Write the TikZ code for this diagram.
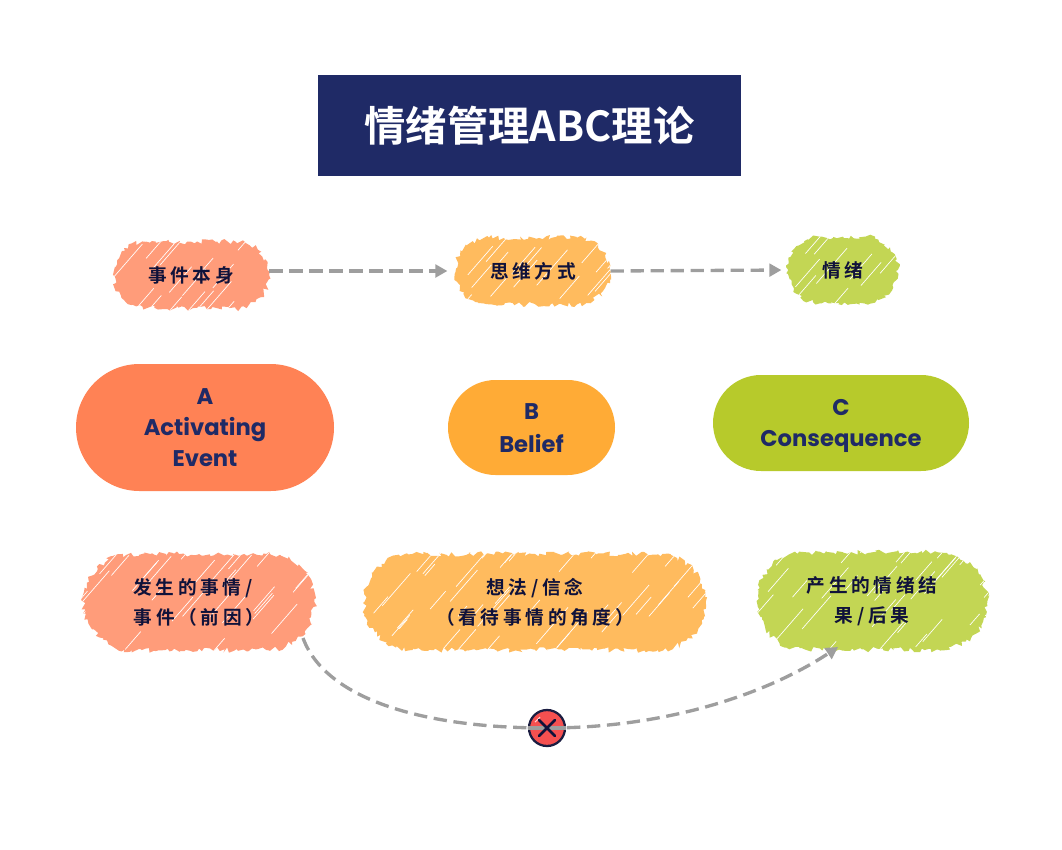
\documentclass[tikz,border=0pt]{standalone}
\usepackage{fontspec}
\usetikzlibrary{arrows.meta,shapes.misc,decorations.pathmorphing}
\setmainfont{Poppins}
\newfontfamily\cjk[LetterSpace=20,BoldFont={Noto Sans CJK SC Bold}]{Noto Sans CJK SC}
\newfontfamily\cjktitle[BoldFont={Noto Sans CJK SC Bold}]{Noto Sans CJK SC}
\definecolor{navy}{HTML}{1F2A66}
\definecolor{inkdark}{HTML}{10123A}
\definecolor{linegrey}{HTML}{9E9E9E}
\definecolor{salmon}{HTML}{FF9C7A}
\definecolor{amber}{HTML}{FFBB5E}
\definecolor{lime}{HTML}{C3D654}
\definecolor{salmondeep}{HTML}{FF8255}
\definecolor{amberdeep}{HTML}{FFAB36}
\definecolor{limedeep}{HTML}{B7CA2B}
\definecolor{crossred}{HTML}{F55050}
\newcommand{\hatchstrokes}{%
	\foreach \k in {1,...,48}{
		\pgfmathsetmacro\hx{(rnd-0.5)*360}
		\pgfmathsetmacro\hy{(rnd-0.5)*110}
		\pgfmathsetmacro\hl{8+rnd*24}
		\draw[white,line width=0.5pt]([shift={(\hx,\hy)}]path picture bounding box.center)--++(\hl,-1.15*\hl);
	}%
}
\newcommand{\lowered}[2]{\raisebox{-#1}[\height][\depth]{#2}}
\tikzset{
	sketchy/.style={rounded rectangle,fill=#1,inner sep=0pt,align=center,text=inkdark,
		font=\cjk\bfseries\fontsize{14pt}{22.5pt}\selectfont,
		decorate,decoration={random steps,segment length=2.2pt,amplitude=2pt},
		path picture={\hatchstrokes}},
	solidpill/.style={rounded rectangle,fill=#1,inner sep=0pt,align=center,text=navy,
		font=\bfseries\fontsize{17pt}{23.3pt}\selectfont},
	greyplain/.style={draw=linegrey,line width=2.5pt,dash pattern=on 10pt off 5pt},
	greyflow/.style={greyplain,-{Triangle[length=9pt,width=9.5pt]}}
}
\begin{document}
\begin{tikzpicture}[x=0.75pt,y=-0.75pt]
	\useasboundingbox(0,0)rectangle(1062,849);
	\pgfmathsetseed{42}
	% title
	\node[fill=navy,text=white,minimum width=317.25pt,minimum height=75.75pt,inner sep=0pt,font=\cjktitle\bfseries\fontsize{31pt}{34pt}\selectfont](title)at(529.5,125.5){情绪管理ABC理论};
	% top row
	\node[sketchy=salmon,minimum width=117pt,minimum height=50pt](eventtag)at(191,275){事件本身};
	\node[sketchy=amber,minimum width=116pt,minimum height=50pt](thinktag)at(533,271){思维方式};
	\node[sketchy=lime,minimum width=82pt,minimum height=50pt](moodtag)at(843,270){情绪};
	\draw[greyflow,shorten >=6pt](eventtag.east|-thinktag.west)--(thinktag.west);
	\draw[greyflow,shorten >=5pt](thinktag.east)--(moodtag.west);
	% middle row
	\node[solidpill=salmondeep,minimum width=193.5pt,minimum height=95.25pt](activating)at(205,427.5){A\\Activating\hspace*{6pt}\\Event};
	\node[solidpill=amberdeep,minimum width=125.25pt,minimum height=71.25pt](belief)at(531.5,427.5){B\\\lowered{1.5pt}{Belief}};
	\node[solidpill=limedeep,minimum width=192pt,minimum height=72pt](consequence)at(841,423){\lowered{2.2pt}{C}\\\lowered{2.2pt}{Consequence}};
	% bottom row
	\node[sketchy=salmon,minimum width=173pt,minimum height=72pt](cause)at(199,602){发生的事情/\hspace*{9pt}\\事件（前因）};
	\node[sketchy=amber,minimum width=256pt,minimum height=72pt](idea)at(535,602){想法/信念\\（看待事情的角度）};
	\node[sketchy=lime,minimum width=173pt,minimum height=73pt](result)at(872,601){产生的情绪结\\果/后果};
	% broken link
	\coordinate(causeend)at(303,638);
	\coordinate(resultend)at(838,647);
	\node[circle,fill=crossred,draw=inkdark!90!gray,line width=1.7pt,minimum size=27pt,inner sep=0pt](blocked)at(547,728){};
	\draw[white!75!crossred,line width=0.8pt]([shift={(-12,-6)}]blocked.center)--([shift={(-7,-11)}]blocked.center);
	\draw[greyplain](causeend)..controls(325,698)and(420,728)..(blocked.center);
	\draw[greyflow](blocked.center)..controls(670,728)and(770,692)..(resultend);
	\draw[draw=linegrey,line width=2.5pt](blocked.west)--(blocked.east);
	\node[cross out,draw=inkdark,line width=2pt,line cap=round,minimum size=10pt,inner sep=0pt](crossmark)at(blocked){};
\end{tikzpicture}
\end{document}
